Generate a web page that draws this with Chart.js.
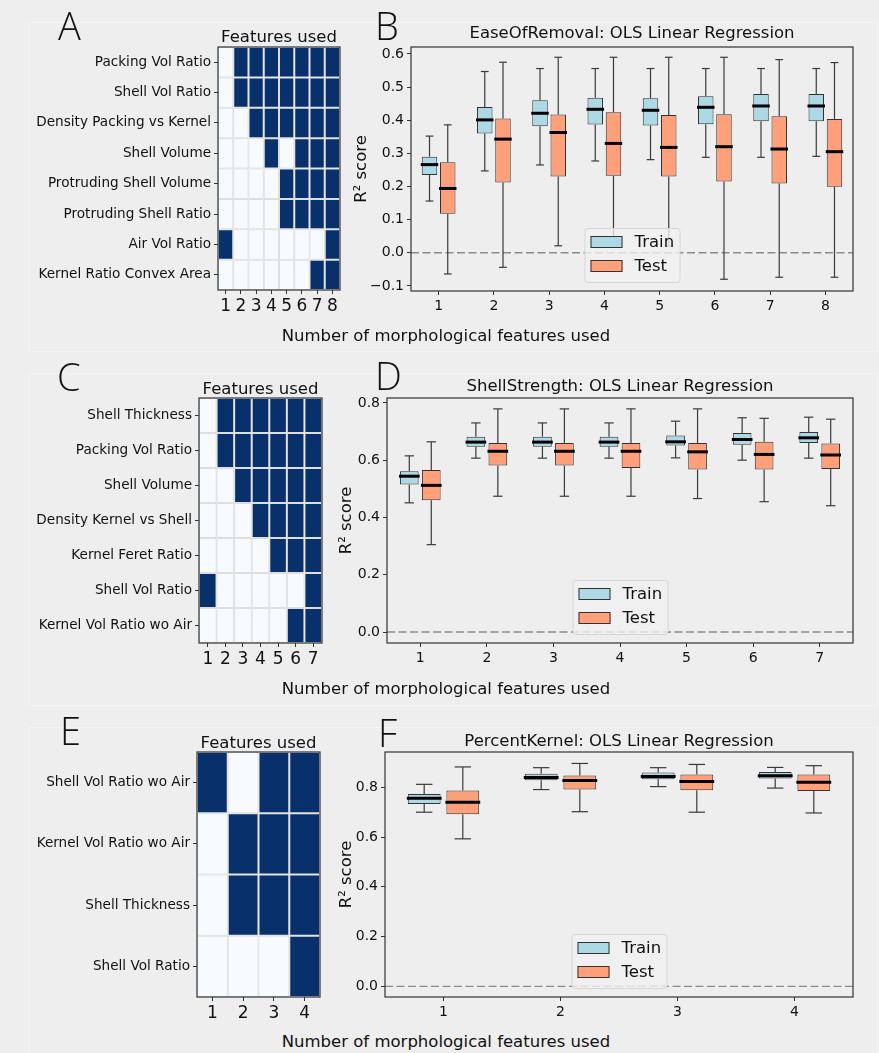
<!DOCTYPE html>
<html lang="en">
<head>
<meta charset="utf-8">
<title>Morphological features – OLS Linear Regression</title>
<script src="https://cdn.jsdelivr.net/npm/chart.js@4.4.1/dist/chart.umd.min.js"></script>
<style>
  html, body { margin: 0; padding: 0; background: #eeeeee; }
  body { width: 879px; height: 1053px; position: relative; overflow: hidden; font-family: 'DejaVu Sans', sans-serif; color: #111; }
  .panel { position: absolute; left: 28px; width: 850px; border: 1px solid #f3f3f3; box-sizing: border-box; }
  canvas { position: absolute; }
  .letter { position: absolute; font-family: 'Open Sans', sans-serif; font-weight: 300; font-size: 38px; line-height: 1; color: #111; }
  .xlab { position: absolute; left: 446px; font-size: 16.5px; line-height: 19px; white-space: nowrap; transform: translateX(-50%); }
</style>
</head>
<body>
<div class="panel" style="top:22px;height:330px"></div>
<div class="panel" style="top:373px;height:333px"></div>
<div class="panel" style="top:727px;height:340px"></div>

<canvas id="heatA"></canvas>
<canvas id="boxB"></canvas>
<canvas id="heatC"></canvas>
<canvas id="boxD"></canvas>
<canvas id="heatE"></canvas>
<canvas id="boxF"></canvas>

<div class="letter" style="left:58px;top:6px">A</div>
<div class="letter" style="left:375px;top:6px">B</div>
<div class="letter" style="left:57px;top:357px">C</div>
<div class="letter" style="left:375px;top:356px">D</div>
<div class="letter" style="left:60px;top:711px">E</div>
<div class="letter" style="left:378px;top:713px">F</div>

<div class="xlab" style="top:326px">Number of morphological features used</div>
<div class="xlab" style="top:679px">Number of morphological features used</div>
<div class="xlab" style="top:1032px">Number of morphological features used</div>

<script>
// ---------- EaseOfRemoval ----------
const easeFeatures = ['Packing Vol Ratio', 'Shell Vol Ratio', 'Density Packing vs Kernel', 'Shell Volume',
  'Protruding Shell Volume', 'Protruding Shell Ratio', 'Air Vol Ratio', 'Kernel Ratio Convex Area'];
const easeUsed = [
  [0, 1, 1, 1, 1, 1, 1, 1],
  [0, 1, 1, 1, 1, 1, 1, 1],
  [0, 0, 1, 1, 1, 1, 1, 1],
  [0, 0, 0, 1, 0, 1, 1, 1],
  [0, 0, 0, 0, 1, 1, 1, 1],
  [0, 0, 0, 0, 1, 1, 1, 1],
  [1, 0, 0, 0, 0, 0, 0, 1],
  [0, 0, 0, 0, 0, 0, 1, 1]
];
const easeCounts = ['1', '2', '3', '4', '5', '6', '7', '8'];
// [min, q1, median, q3, max]
const easeTrain = [
  [0.156, 0.235, 0.266, 0.290, 0.352],
  [0.247, 0.360, 0.401, 0.440, 0.547],
  [0.265, 0.382, 0.421, 0.460, 0.556],
  [0.277, 0.387, 0.433, 0.468, 0.556],
  [0.281, 0.384, 0.430, 0.466, 0.556],
  [0.288, 0.388, 0.439, 0.472, 0.556],
  [0.288, 0.397, 0.443, 0.479, 0.556],
  [0.291, 0.397, 0.443, 0.479, 0.556]
];
const easeTest = [
  [-0.064, 0.118, 0.194, 0.273, 0.386],
  [-0.044, 0.212, 0.343, 0.405, 0.575],
  [0.021, 0.230, 0.363, 0.417, 0.590],
  [0.030, 0.232, 0.330, 0.424, 0.590],
  [0.020, 0.230, 0.318, 0.416, 0.590],
  [-0.080, 0.215, 0.320, 0.418, 0.590],
  [-0.074, 0.209, 0.313, 0.412, 0.583],
  [-0.074, 0.199, 0.305, 0.404, 0.574]
];
const easeTicks = [-0.1, 0.0, 0.1, 0.2, 0.3, 0.4, 0.5, 0.6];

// ---------- ShellStrength ----------
const shellFeatures = ['Shell Thickness', 'Packing Vol Ratio', 'Shell Volume', 'Density Kernel vs Shell',
  'Kernel Feret Ratio', 'Shell Vol Ratio', 'Kernel Vol Ratio wo Air'];
const shellUsed = [
  [0, 1, 1, 1, 1, 1, 1],
  [0, 1, 1, 1, 1, 1, 1],
  [0, 0, 1, 1, 1, 1, 1],
  [0, 0, 0, 1, 1, 1, 1],
  [0, 0, 0, 0, 1, 1, 1],
  [1, 0, 0, 0, 0, 0, 1],
  [0, 0, 0, 0, 0, 1, 1]
];
const shellCounts = ['1', '2', '3', '4', '5', '6', '7'];
const shellTrain = [
  [0.451, 0.515, 0.544, 0.561, 0.615],
  [0.607, 0.647, 0.663, 0.682, 0.730],
  [0.607, 0.647, 0.663, 0.682, 0.730],
  [0.607, 0.647, 0.663, 0.682, 0.730],
  [0.608, 0.651, 0.664, 0.686, 0.736],
  [0.600, 0.654, 0.672, 0.695, 0.748],
  [0.607, 0.660, 0.678, 0.698, 0.750]
];
const shellTest = [
  [0.305, 0.460, 0.512, 0.566, 0.664],
  [0.474, 0.581, 0.631, 0.660, 0.779],
  [0.474, 0.581, 0.631, 0.660, 0.779],
  [0.474, 0.573, 0.631, 0.660, 0.779],
  [0.466, 0.567, 0.629, 0.660, 0.779],
  [0.455, 0.567, 0.620, 0.664, 0.746],
  [0.441, 0.569, 0.618, 0.658, 0.743]
];
const shellTicks = [0.0, 0.2, 0.4, 0.6, 0.8];

// ---------- PercentKernel ----------
const kernelFeatures = ['Shell Vol Ratio wo Air', 'Kernel Vol Ratio wo Air', 'Shell Thickness', 'Shell Vol Ratio'];
const kernelUsed = [
  [1, 0, 1, 1],
  [0, 1, 1, 1],
  [0, 1, 1, 1],
  [0, 0, 0, 1]
];
const kernelCounts = ['1', '2', '3', '4'];
const kernelTrain = [
  [0.700, 0.733, 0.756, 0.773, 0.812],
  [0.791, 0.828, 0.840, 0.855, 0.879],
  [0.803, 0.832, 0.844, 0.860, 0.879],
  [0.797, 0.835, 0.847, 0.862, 0.880]
];
const kernelTest = [
  [0.593, 0.692, 0.740, 0.787, 0.882],
  [0.702, 0.791, 0.827, 0.848, 0.896],
  [0.700, 0.788, 0.823, 0.852, 0.892],
  [0.697, 0.785, 0.820, 0.852, 0.887]
];
const kernelTicks = [0.0, 0.2, 0.4, 0.6, 0.8];

// ---------- styling ----------
const FONT = "'DejaVu Sans', sans-serif";
const TXT = '#111111';
const INK = '#333333';
const DARK = '#08306b';
const LIGHT = '#f7fbff';
const CELL_EDGE = '#dedede';
const TRAIN = '#add8e6';
const TEST = '#ffa07a';

Chart.defaults.font.family = FONT;
Chart.defaults.color = TXT;
Chart.defaults.animation = false;

function placeCanvas(id, b) {
  const c = document.getElementById(id);
  c.width = b.cw; c.height = b.ch;
  c.style.left = b.cx + 'px'; c.style.top = b.cy + 'px';
  return c;
}

// outline of the plotting area (axes spines)
const framePlugin = {
  id: 'frame',
  afterDatasetsDraw(chart) {
    const a = chart.chartArea, ctx = chart.ctx;
    ctx.save();
    ctx.strokeStyle = INK;
    ctx.lineWidth = 1.2;
    ctx.strokeRect(a.left, a.top, a.right - a.left, a.bottom - a.top);
    ctx.restore();
  }
};

// title centred above the plotting area
function axTitle(text, gap, size) {
  return {
    id: 'axTitle',
    afterDraw(chart) {
      const a = chart.chartArea, ctx = chart.ctx;
      ctx.save();
      ctx.font = size + 'px ' + FONT;
      ctx.fillStyle = TXT;
      ctx.textAlign = 'center';
      ctx.textBaseline = 'alphabetic';
      ctx.fillText(text, (a.left + a.right) / 2, a.top - gap);
      ctx.restore();
    }
  };
}

// whiskers, caps, medians, zero reference line and the Train/Test legend
const boxPlugin = {
  id: 'boxStats',
  beforeDatasetsDraw(chart) {
    const a = chart.chartArea, ctx = chart.ctx;
    const y0 = chart.scales.y.getPixelForValue(0);
    ctx.save();
    ctx.strokeStyle = '#8c8c8c';
    ctx.lineWidth = 1.4;
    ctx.setLineDash([8, 3.5]);
    ctx.beginPath(); ctx.moveTo(a.left, y0); ctx.lineTo(a.right, y0); ctx.stroke();
    ctx.restore();
  },
  afterDatasetsDraw(chart) {
    const ctx = chart.ctx, ys = chart.scales.y, a = chart.chartArea;
    const seg = (x1, y1, x2, y2) => { ctx.beginPath(); ctx.moveTo(x1, y1); ctx.lineTo(x2, y2); ctx.stroke(); };
    ctx.save();
    chart.data.datasets.forEach((ds, i) => {
      chart.getDatasetMeta(i).data.forEach((bar, j) => {
        const [mn, q1, md, q3, mx] = ds.stats[j];
        const x = bar.x, w = bar.width;
        const pMin = ys.getPixelForValue(mn), pQ1 = ys.getPixelForValue(q1);
        const pMd = ys.getPixelForValue(md), pQ3 = ys.getPixelForValue(q3), pMax = ys.getPixelForValue(mx);
        ctx.strokeStyle = '#3a3a3a';
        ctx.lineWidth = 1.2;
        seg(x, pQ3, x, pMax);
        seg(x, pQ1, x, pMin);
        seg(x - w / 4, pMax, x + w / 4, pMax);
        seg(x - w / 4, pMin, x + w / 4, pMin);
        ctx.strokeStyle = '#000';
        ctx.lineWidth = 3;
        seg(x - w / 2 - 1, pMd, x + w / 2 + 1, pMd);
      });
    });
    // legend, lower centre of the plotting area
    const lw = 95, lh = 54;
    const lx = (a.left + a.right) / 2 - lw / 2, ly = a.bottom - 9 - lh;
    ctx.fillStyle = 'rgba(240,240,240,0.8)';
    ctx.strokeStyle = '#d6d6d6';
    ctx.lineWidth = 1;
    ctx.beginPath();
    ctx.roundRect(lx + 0.5, ly + 0.5, lw, lh, 3);
    ctx.fill(); ctx.stroke();
    chart.data.datasets.forEach((ds, i) => {
      const cy = ly + 14 + i * 24;
      ctx.fillStyle = ds.backgroundColor;
      ctx.fillRect(lx + 6, cy - 6, 32, 12);
      ctx.strokeStyle = INK;
      ctx.lineWidth = 1;
      ctx.strokeRect(lx + 6.5, cy - 5.5, 31, 11);
      ctx.fillStyle = TXT;
      ctx.font = '16.5px ' + FONT;
      ctx.textAlign = 'left';
      ctx.textBaseline = 'middle';
      ctx.fillText(ds.label, lx + 50, cy + 1);
    });
    ctx.restore();
  }
};

function heatmap(id, b, names, used, counts, gap) {
  const cv = placeCanvas(id, b);
  return new Chart(cv, {
    type: 'bar',
    data: {
      labels: counts,
      datasets: names.map((name, r) => ({
        label: name,
        data: counts.map(() => [r, r + 1]),
        backgroundColor: used[r].map(u => (u ? DARK : LIGHT)),
        borderColor: CELL_EDGE,
        borderWidth: 1,
        borderSkipped: false,
        inflateAmount: 0,
        grouped: false,
        barPercentage: 1,
        categoryPercentage: 1
      }))
    },
    options: {
      responsive: false, animation: false, events: [],
      layout: { padding: { top: b.padTop, left: 0, right: b.padRight, bottom: 0 } },
      plugins: { legend: { display: false }, tooltip: { enabled: false } },
      scales: {
        x: {
          offset: true,
          grid: { offset: false, drawOnChartArea: false, tickLength: 4, color: INK },
          border: { display: false },
          ticks: { font: { size: 17 }, color: TXT, padding: 2, maxRotation: 0, autoSkip: false },
          afterFit: s => { s.height = b.xH; }
        },
        y: {
          type: 'linear', min: 0, max: names.length, reverse: true,
          afterBuildTicks: s => { s.ticks = names.map((_, i) => ({ value: i + 0.5 })); },
          grid: { drawOnChartArea: false, tickLength: 4, color: INK },
          border: { display: false },
          ticks: { font: { size: 13.6 }, color: TXT, padding: 3, autoSkip: false, callback: (v, i) => names[i] },
          afterFit: s => { s.width = b.yW; }
        }
      }
    },
    plugins: [framePlugin, axTitle('Features used', gap, 16.5)]
  });
}

const fmtTick = v => v.toFixed(1).replace('-', '\u2212');

function boxplot(id, b, counts, train, test, ticks, yMin, yMax, title, gap, titlePad) {
  const cv = placeCanvas(id, b);
  return new Chart(cv, {
    type: 'bar',
    data: {
      labels: counts,
      datasets: [
        { label: 'Train', data: train.map(s => [s[1], s[3]]), stats: train, backgroundColor: TRAIN,
          borderColor: INK, borderWidth: 1, borderSkipped: false, categoryPercentage: 0.66, barPercentage: 0.85 },
        { label: 'Test', data: test.map(s => [s[1], s[3]]), stats: test, backgroundColor: TEST,
          borderColor: INK, borderWidth: 1, borderSkipped: false, categoryPercentage: 0.66, barPercentage: 0.85 }
      ]
    },
    options: {
      responsive: false, animation: false, events: [],
      layout: { padding: { top: b.padTop, left: 0, right: b.padRight, bottom: 0 } },
      plugins: { legend: { display: false }, tooltip: { enabled: false } },
      scales: {
        x: {
          offset: true,
          grid: { offset: false, drawOnChartArea: false, tickLength: 4, color: INK },
          border: { display: false },
          ticks: { font: { size: 14 }, color: TXT, padding: 3, maxRotation: 0, autoSkip: false },
          afterFit: s => { s.height = b.xH; }
        },
        y: {
          min: yMin, max: yMax,
          afterBuildTicks: s => { s.ticks = ticks.map(v => ({ value: v })); },
          grid: { drawOnChartArea: false, tickLength: 4, color: INK },
          border: { display: false },
          ticks: { font: { size: 14 }, color: TXT, padding: 3, callback: v => fmtTick(v) },
          title: { display: true, text: 'R² score', font: { size: 16.5 }, color: TXT, padding: { top: titlePad, bottom: 0 } },
          afterFit: s => { s.width = b.yW; }
        }
      }
    },
    plugins: [boxPlugin, framePlugin, axTitle(title, gap, 16.5)]
  });
}

// panel boxes: canvas rectangle + fixed plotting-area insets
heatmap('heatA', { cx: 28, cy: 22, cw: 325, ch: 305, yW: 190, padTop: 25, padRight: 13, xH: 37 },
  easeFeatures, easeUsed, easeCounts, 5.5);
boxplot('boxB', { cx: 345, cy: 22, cw: 530, ch: 305, yW: 66, padTop: 25, padRight: 22, xH: 36 },
  easeCounts, easeTrain, easeTest, easeTicks, -0.1155, 0.621, 'EaseOfRemoval: OLS Linear Regression', 8.7, 7.2);

heatmap('heatC', { cx: 28, cy: 373, cw: 300, ch: 305, yW: 171, padTop: 25, padRight: 6, xH: 35 },
  shellFeatures, shellUsed, shellCounts, 4);
boxplot('boxD', { cx: 330, cy: 373, cw: 545, ch: 305, yW: 57, padTop: 25, padRight: 22, xH: 35 },
  shellCounts, shellTrain, shellTest, shellTicks, -0.0384, 0.817, 'ShellStrength: OLS Linear Regression', 6.8, 7.2);

heatmap('heatE', { cx: 28, cy: 727, cw: 300, ch: 305, yW: 169, padTop: 25, padRight: 8, xH: 35 },
  kernelFeatures, kernelUsed, kernelCounts, 4);
boxplot('boxF', { cx: 330, cy: 727, cw: 545, ch: 305, yW: 55, padTop: 25, padRight: 22, xH: 35 },
  kernelCounts, kernelTrain, kernelTest, kernelTicks, -0.0428, 0.942, 'PercentKernel: OLS Linear Regression', 6.5, 7.2);
</script>
</body>
</html>
